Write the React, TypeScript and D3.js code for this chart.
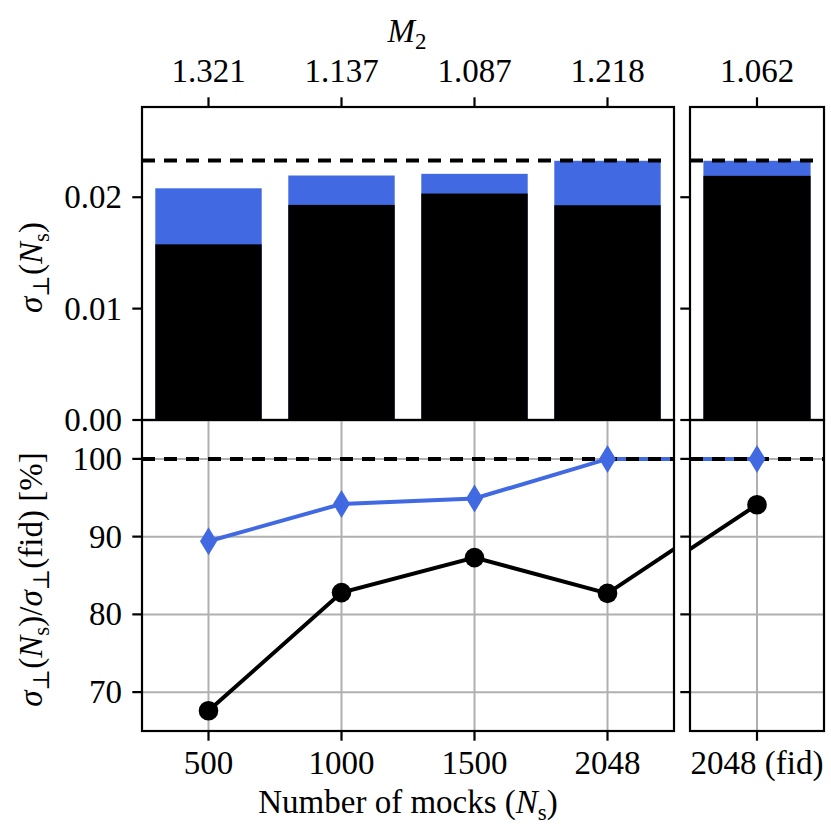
import * as React from "react";
import * as d3 from "d3";

// number of mocks (categories), the fiducial run sits in its own panel
const mocks = ["500", "1000", "1500", "2048"];
const fidLabel = "2048 (fid)";
// M_2 shown on the top axis
const m2Values = ["1.321", "1.137", "1.087", "1.218"];
const m2Fid = "1.062";

// sigma_perp(N_s): blue = full bar, black = inner bar (last entry = fid)
const sigmaBlue = [0.0208, 0.02195, 0.0221, 0.02327, 0.02327];
const sigmaBlack = [0.01577, 0.01931, 0.02033, 0.01928, 0.02192];
const sigmaRef = 0.0233;

// ratio to fiducial in percent
const ratioBlue = [89.4, 94.2, 94.9, 100, 100];
const ratioBlack = [67.6, 82.8, 87.3, 82.7, 94.1];

const topTicks = [0, 0.01, 0.02];
const bottomTicks = [70, 80, 90, 100];

const BLUE = "#4169e1";
const GRID = "#b0b0b0";
const FONT = "'Liberation Serif', 'DejaVu Serif', serif";
const FS = 33;
const SUB = 23;
const DY = 7;
const TICK = 9.7;

const yTop = d3.scaleLinear().domain([0, 0.0281]).range([420, 107]);
const yBot = d3.scaleLinear().domain([65, 105]).range([731, 420]);

const panels = [
  {
    id: "L",
    x: d3.scaleLinear().domain([-0.5, 3.5]).range([142, 674]),
    idx: [0, 1, 2, 3],
    labels: mocks,
    m2: m2Values,
    showYLabels: true,
  },
  {
    id: "R",
    x: d3.scaleLinear().domain([3.5, 4.5]).range([690, 824]),
    idx: [4],
    labels: [fidLabel],
    m2: [m2Fid],
    showYLabels: false,
  },
];

// sigma_perp ( N_s ) as tspans; subscripts shift down, next piece shifts back
const SigmaNs = () => (
  <>
    <tspan fontStyle="italic">σ</tspan>
    <tspan dy={DY} fontSize={SUB}>⊥</tspan>
    <tspan dy={-DY}>(</tspan>
    <tspan fontStyle="italic">N</tspan>
    <tspan dy={DY} fontSize={SUB}>s</tspan>
    <tspan dy={-DY}>)</tspan>
  </>
);

const App = () => {
  const line = (vals: number[], xs: d3.ScaleLinear<number, number>) =>
    d3
      .line<number>()
      .x((d, i) => xs(i))
      .y((d) => yBot(d))(vals) || "";

  const diamond = (cx: number, cy: number) => {
    const h = 14, w = 8.5;
    return `M${cx},${cy - h}L${cx + w},${cy}L${cx},${cy + h}L${cx - w},${cy}Z`;
  };

  return (
    <svg
      width={831}
      height={831}
      style={{ position: "absolute", left: 0, top: 0, background: "#fff" }}
      fontFamily={FONT}
      fontSize={FS}
    >
      <defs>
        {panels.map((p) => (
          <clipPath id={"clip" + p.id} key={p.id}>
            <rect
              x={p.x.range()[0]}
              y={420}
              width={p.x.range()[1] - p.x.range()[0]}
              height={311}
            />
          </clipPath>
        ))}
      </defs>

      {panels.map((p) => {
        const [x0, x1] = p.x.range();
        const bw = (p.x(1) - p.x(0)) * 0.8;
        return (
          <g key={p.id}>
            {/* ---------- top panel: bars ---------- */}
            {p.idx.map((i) => (
              <rect
                key={"b" + i}
                x={p.x(i) - bw / 2}
                width={bw}
                y={yTop(sigmaBlue[i])}
                height={yTop(0) - yTop(sigmaBlue[i])}
                fill={BLUE}
              />
            ))}
            {p.idx.map((i) => (
              <rect
                key={"k" + i}
                x={p.x(i) - bw / 2}
                width={bw}
                y={yTop(sigmaBlack[i])}
                height={yTop(0) - yTop(sigmaBlack[i])}
                fill="#000"
              />
            ))}
            <line
              x1={x0}
              x2={x1 - 6}
              y1={yTop(sigmaRef)}
              y2={yTop(sigmaRef)}
              stroke="#000"
              strokeWidth={4}
              strokeDasharray="13,9"
            />
            <rect x={x0} y={107} width={x1 - x0} height={313} fill="none" stroke="#000" strokeWidth={2.2} />
            {topTicks.map((t) => (
              <g key={"yt" + t}>
                <line x1={x0 - TICK} x2={x0} y1={yTop(t)} y2={yTop(t)} stroke="#000" strokeWidth={2.2} />
                {p.showYLabels && (
                  <text x={x0 - 20} y={yTop(t) + 11} textAnchor="end">
                    {t.toFixed(2)}
                  </text>
                )}
              </g>
            ))}
            {p.idx.map((i, k) => (
              <g key={"m2" + i}>
                <line x1={p.x(i)} x2={p.x(i)} y1={107 - TICK} y2={107} stroke="#000" strokeWidth={2.2} />
                <text x={p.x(i)} y={82} textAnchor="middle">
                  {p.m2[k]}
                </text>
              </g>
            ))}

            {/* ---------- bottom panel: ratio ---------- */}
            {bottomTicks.map((t) => (
              <line key={"gh" + t} x1={x0} x2={x1} y1={yBot(t)} y2={yBot(t)} stroke={GRID} strokeWidth={2} />
            ))}
            {p.idx.map((i) => (
              <line key={"gv" + i} x1={p.x(i)} x2={p.x(i)} y1={420} y2={731} stroke={GRID} strokeWidth={2} />
            ))}
            <g clipPath={`url(#clip${p.id})`}>
              <path d={line(ratioBlue, p.x)} fill="none" stroke={BLUE} strokeWidth={4} />
              <path d={line(ratioBlack, p.x)} fill="none" stroke="#000" strokeWidth={4} />
              <line
                x1={x0}
                x2={x1}
                y1={yBot(100)}
                y2={yBot(100)}
                stroke="#000"
                strokeWidth={4}
                strokeDasharray="13,9"
              />
              {ratioBlue.map((v, i) => (
                <path key={"d" + i} d={diamond(p.x(i), yBot(v))} fill={BLUE} />
              ))}
              {ratioBlack.map((v, i) => (
                <circle key={"c" + i} cx={p.x(i)} cy={yBot(v)} r={9.8} fill="#000" />
              ))}
            </g>
            <rect x={x0} y={420} width={x1 - x0} height={311} fill="none" stroke="#000" strokeWidth={2.2} />
            {bottomTicks.map((t) => (
              <g key={"bt" + t}>
                <line x1={x0 - TICK} x2={x0} y1={yBot(t)} y2={yBot(t)} stroke="#000" strokeWidth={2.2} />
                {p.showYLabels && (
                  <text x={x0 - 20} y={yBot(t) + 11} textAnchor="end">
                    {t}
                  </text>
                )}
              </g>
            ))}
            {p.idx.map((i, k) => (
              <g key={"xt" + i}>
                <line x1={p.x(i)} x2={p.x(i)} y1={731} y2={731 + TICK} stroke="#000" strokeWidth={2.2} />
                <text x={p.x(i)} y={774} textAnchor="middle">
                  {p.labels[k]}
                </text>
              </g>
            ))}
          </g>
        );
      })}

      {/* axis titles */}
      <text x={407} y={42} textAnchor="middle">
        <tspan fontStyle="italic">M</tspan>
        <tspan dy={DY} fontSize={SUB}>2</tspan>
      </text>
      <text x={408} y={813} textAnchor="middle">
        <tspan>Number of mocks (</tspan>
        <tspan fontStyle="italic">N</tspan>
        <tspan dy={DY} fontSize={SUB}>s</tspan>
        <tspan dy={-DY}>)</tspan>
      </text>
      <text transform={`translate(42,${(107 + 420) / 2 + 4}) rotate(-90)`} textAnchor="middle">
        <SigmaNs />
      </text>
      <text transform={`translate(42,${(420 + 731) / 2 + 4}) rotate(-90)`} textAnchor="middle">
        <SigmaNs />
        <tspan>/</tspan>
        <tspan fontStyle="italic">σ</tspan>
        <tspan dy={DY} fontSize={SUB}>⊥</tspan>
        <tspan dy={-DY}>(fid) [%]</tspan>
      </text>
    </svg>
  );
};

export default App;
